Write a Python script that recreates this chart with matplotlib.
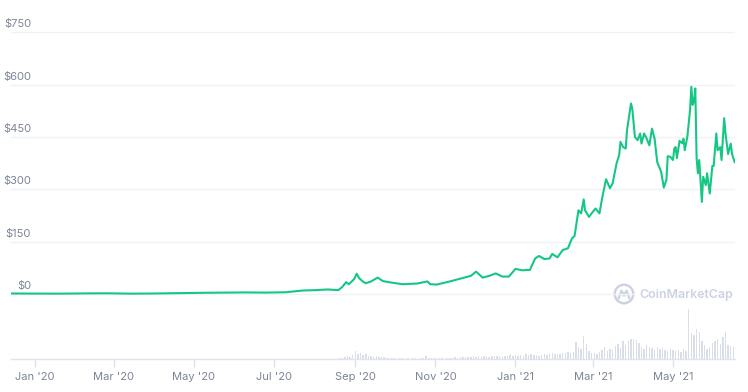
import numpy as np
import pandas as pd
import matplotlib.pyplot as plt
import matplotlib.dates as mdates

plt.rcParams['font.family'] = ['Inter', 'DejaVu Sans']

# price (USD)
price_dates = [
    '2019-12-14', '2020-01-01', '2020-01-20', '2020-02-10', '2020-02-25', '2020-03-15',
    '2020-04-01', '2020-04-20', '2020-05-10', '2020-05-25', '2020-06-10', '2020-06-25',
    '2020-07-10', '2020-07-23', '2020-08-01', '2020-08-11', '2020-08-19', '2020-08-22',
    '2020-08-25', '2020-08-27', '2020-08-31', '2020-09-02', '2020-09-04', '2020-09-07',
    '2020-09-09', '2020-09-13', '2020-09-18', '2020-09-22', '2020-09-28', '2020-10-07',
    '2020-10-18', '2020-10-26', '2020-10-28', '2020-11-02', '2020-11-12', '2020-11-23',
    '2020-11-28', '2020-12-02', '2020-12-07', '2020-12-12', '2020-12-17', '2020-12-22',
    '2020-12-27', '2021-01-01', '2021-01-06', '2021-01-12', '2021-01-16', '2021-01-19',
    '2021-01-23', '2021-01-27', '2021-01-29', '2021-02-02', '2021-02-06', '2021-02-10',
    '2021-02-13', '2021-02-15', '2021-02-18', '2021-02-20', '2021-02-22', '2021-02-23',
    '2021-02-26', '2021-03-01', '2021-03-03', '2021-03-06', '2021-03-08', '2021-03-11',
    '2021-03-14', '2021-03-16', '2021-03-19', '2021-03-21', '2021-03-22', '2021-03-24',
    '2021-03-26', '2021-03-27', '2021-03-30', '2021-03-31', '2021-04-02', '2021-04-04',
    '2021-04-06', '2021-04-07', '2021-04-09', '2021-04-11', '2021-04-13', '2021-04-15',
    '2021-04-17', '2021-04-19', '2021-04-22', '2021-04-24', '2021-04-26', '2021-04-27',
    '2021-04-29', '2021-05-01', '2021-05-02', '2021-05-03', '2021-05-04', '2021-05-06',
    '2021-05-08', '2021-05-09', '2021-05-10', '2021-05-12', '2021-05-14', '2021-05-15',
    '2021-05-16', '2021-05-17', '2021-05-18', '2021-05-19', '2021-05-20', '2021-05-21',
    '2021-05-23', '2021-05-24', '2021-05-26', '2021-05-27', '2021-05-29', '2021-05-31',
    '2021-06-01', '2021-06-03', '2021-06-04', '2021-06-06', '2021-06-07', '2021-06-09',
    '2021-06-10', '2021-06-12', '2021-06-14', '2021-06-15', '2021-06-17',
]
price_values = [
    1.5, 1.2, 1.0, 1.8, 2.0, 1.0,
    1.5, 2.5, 3.5, 4.0, 4.5, 4.0,
    5.0, 10, 11, 13, 11, 20,
    34, 28, 42, 58, 45, 35,
    31, 36, 47, 37, 33, 28,
    30, 36, 28, 27, 36, 47,
    52, 64, 47, 52, 59, 50,
    50, 72, 68, 69, 102, 109,
    100, 102, 115, 105, 126, 131,
    159, 166, 240, 231, 271, 240,
    221, 236, 245, 231, 274, 329,
    303, 317, 374, 398, 436, 421,
    417, 470, 546, 531, 450, 441,
    460, 431, 460, 445, 426, 474,
    445, 378, 350, 305, 327, 395,
    393, 384, 417, 421, 389, 439,
    432, 445, 412, 452, 527, 594,
    542, 553, 589, 389, 346, 384,
    264, 336, 312, 346, 288, 367,
    367, 460, 412, 421, 384, 504,
    460, 401, 431, 401, 378,
]

# volume, one bar every 2 days from 2020-08-20 (relative units)
volume_start = '2020-08-20'
volume_values = [
    1, 1, 2, 3, 2, 4,
    8, 5, 6, 4, 5, 3, 3, 2, 3, 2, 2, 2, 1, 1, 1,
    1, 0, 1, 1, 0, 1, 0, 1, 1, 0, 1, 1, 3, 1, 1, 1,
    1, 1, 1, 0, 1, 1, 1, 2, 1, 2, 2, 2, 2, 2, 3,
    2, 3, 2, 3, 3, 2, 3, 3, 3, 3, 2, 3, 3, 4, 3,
    4, 3, 4, 3, 5, 4, 5, 4, 4, 3, 4, 5, 4, 5, 6, 5,
    5, 5, 6, 6, 7, 6, 7, 17, 12, 10, 23, 15, 8, 6,
    6, 5, 7, 9, 12, 8, 10, 9, 13, 15, 11, 18, 14, 18, 20,
    20, 19, 16, 12, 10, 14, 12, 11, 9, 12, 10, 11, 9, 8, 10,
    9, 8, 9, 7, 10, 8, 50, 26, 24, 30, 27, 18, 14, 10, 12, 16,
    18, 20, 15, 22, 27, 14, 13, 12,
]

price_ticks = [0, 150, 300, 450, 600, 750]
month_ticks = ['2020-01-01', '2020-03-01', '2020-05-01', '2020-07-01', '2020-09-01',
               '2020-11-01', '2021-01-01', '2021-03-01', '2021-05-01']

green = '#16c784'
label_col = '#7b8497'
grid_col = '#eff2f5'
axis_col = '#dfe3ec'
vol_col = '#dadeea'
mark_col = '#cbd2e1'

W, H = 748, 392
fig = plt.figure(figsize=(W / 100, H / 100), dpi=100)
left, right, top, bottom = 11, 735, 20, 359
ax = fig.add_axes([left / W, 1 - bottom / H, (right - left) / W, (bottom - top) / H])
ax2 = ax.twinx()

# volume bars in the bottom strip
vdates = pd.date_range(volume_start, periods=len(volume_values), freq='2D')
ax2.bar(vdates, volume_values, width=1.1, color=vol_col, linewidth=0)
ax2.set_ylim(0, max(volume_values) * (bottom - top) / 50)
ax2.axis('off')

ax.set_zorder(ax2.get_zorder() + 1)
ax.patch.set_visible(False)

pdates = pd.to_datetime(price_dates)
ax.plot(pdates, price_values, color=green, lw=1.5, solid_joinstyle='round', zorder=3)

ppx = 261.7 / 750  # px per dollar
ax.set_ylim(-(bottom - 294) / ppx, 750 + (32.3 - top) / ppx)
ax.set_xlim(pd.Timestamp('2019-12-13 16:00'), pd.Timestamp('2021-06-17 06:00'))

for v in price_ticks:
    ax.axhline(v, color=grid_col, lw=1, zorder=1)
    ax.text((31 - left) / (right - left), v + 3 / ppx, f'${v}',
            transform=ax.get_yaxis_transform(), ha='right', va='bottom',
            fontsize=8, color=label_col)

ax.set_yticks([])
for s in ['top', 'right', 'left']:
    ax.spines[s].set_visible(False)
ax.spines['bottom'].set_color(axis_col)
ax.spines['bottom'].set_linewidth(1)

mt = pd.to_datetime(month_ticks)
ax.set_xticks(mt)
ax.set_xticklabels([d.strftime("%b '%y") for d in mt])
ax.tick_params(axis='x', length=6, width=1, color=axis_col, labelcolor=label_col,
               labelsize=8, pad=3)

# watermark
fig.text(639 / W, 1 - 295 / H, 'CoinMarketCap', fontsize=8.9, fontweight='semibold',
         color=mark_col, va='center', ha='left',
         bbox=dict(facecolor='white', edgecolor='none', pad=2))
lax = fig.add_axes([612 / W, 1 - 306 / H, 24 / W, 24 / H])
lax.set_xlim(-1.1, 1.1)
lax.set_ylim(-1.1, 1.1)
lax.axis('off')
lax.add_patch(plt.Circle((0, 0), 1.05, color='white', zorder=0))
lax.add_patch(plt.Circle((0, 0), 0.85, fill=False, color=mark_col, lw=1.7))
lax.plot([-0.5, -0.22, 0.0, 0.22, 0.5], [-0.4, 0.3, -0.15, 0.3, -0.4],
         color=mark_col, lw=1.7, solid_capstyle='round')

fig.savefig('out.png', dpi=100)
